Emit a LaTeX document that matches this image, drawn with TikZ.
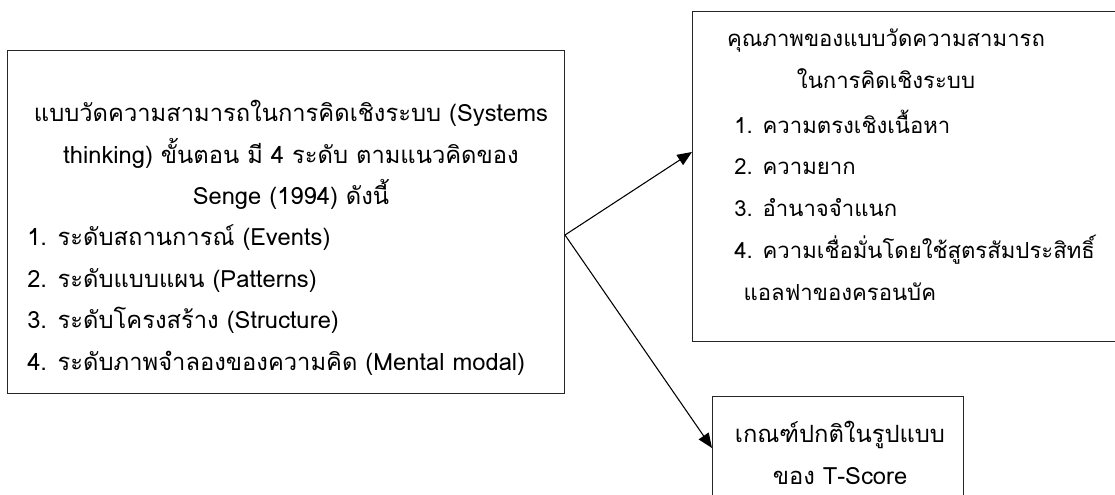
\documentclass[tikz,border=0pt]{standalone}
\usepackage{fontspec}
\setmainfont[Script=Thai]{Loma}
\usetikzlibrary{arrows.meta}
\begin{document}
\begin{tikzpicture}[x=0.75pt,y=-0.75pt,
  boxstyle/.style={draw=black!85,line width=1.1pt,rectangle,anchor=north west,inner sep=0pt},
  txt/.style={inner sep=0pt,font=\fontsize{17.8}{31.3}\selectfont},
  txtr/.style={inner sep=0pt,font=\fontsize{16.6}{31.3}\selectfont},
  arr/.style={draw=black,line width=0.8pt,-{Triangle[length=11pt,width=9pt]}}]
\useasboundingbox (0,0) rectangle (1115,495);
% boxes
\node[boxstyle,minimum width=557*0.75pt,minimum height=343*0.75pt] (L) at (7,50) {};
\node[boxstyle,minimum width=440*0.75pt,minimum height=330*0.75pt] (R) at (692,11) {};
\node[boxstyle,minimum width=251*0.75pt,minimum height=140*0.75pt] (B) at (712,396) {};
% texts
\node[txt,align=center] (Lh) at (291,155) {แบบวัดความสามารถในการคิดเชิงระบบ (Systems\\thinking) ขั้นตอน มี 4 ระดับ ตามแนวคิดของ\\Senge (1994) ดังนี้};
\node[txt,align=left,anchor=west] (Li) at (27,300) {1. ระดับสถานการณ์ (Events)\\2. ระดับแบบแผน (Patterns)\\3. ระดับโครงสร้าง (Structure)\\4. ระดับภาพจำลองของความคิด (Mental modal)};
\node[txtr,align=center] (Rh) at (886,59) {คุณภาพของแบบวัดความสามารถ\\ในการคิดเชิงระบบ};
\node[txtr,align=left,anchor=west] (Ri) at (734,205) {1. ความตรงเชิงเนื้อหา\\2. ความยาก\\3. อำนาจจำแนก\\4. ความเชื่อมั่นโดยใช้สูตรสัมประสิทธิ์\\\hspace*{7pt}แอลฟาของครอนบัค};
\node[txt,align=center] (Bt) at (840,453) {เกณฑ์ปกติในรูปแบบ\\ของ T-Score};
% connectors
\coordinate (br) at (565,235);
\coordinate (rin) at (692,152);
\coordinate (bin) at (712,448);
\draw[arr] (br) -- (rin);
\draw[arr] (br) -- (bin);
\end{tikzpicture}
\end{document}
